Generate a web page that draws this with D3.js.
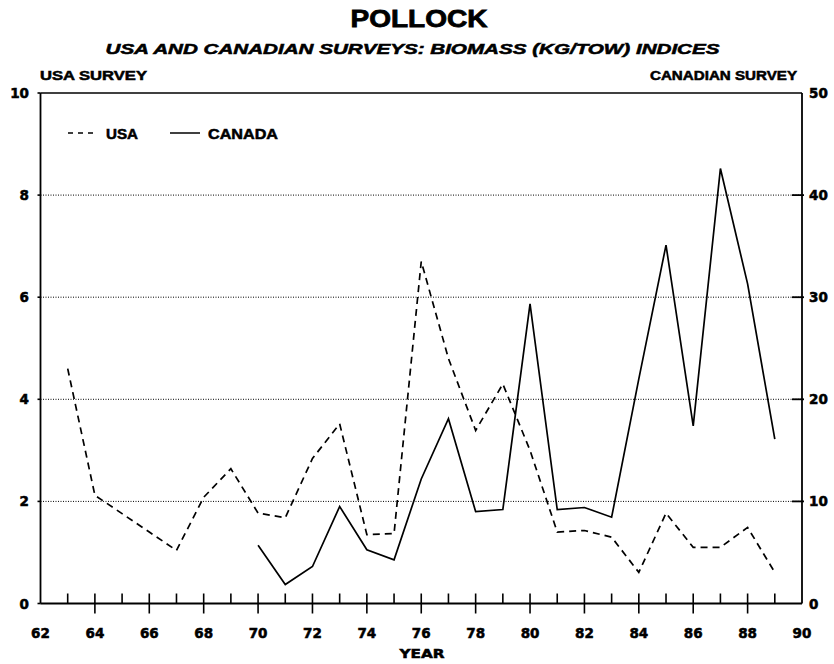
<!DOCTYPE html>
<html><head><meta charset="utf-8">
<script src="https://cdn.jsdelivr.net/npm/d3@7"></script>
<style>
html,body{margin:0;padding:0;background:#fff;}
svg{display:block;}
text{fill:#000;stroke:#000;stroke-width:0.55px;}
</style></head>
<body>
<svg id="chart" width="834" height="664"></svg>
<script>
// ---- data ----
const usaYears = [63,64,65,66,67,68,69,70,71,72,73,74,75,76,77,78,79,80,81,82,83,84,85,86,87,88,89];
const usaValues = [4.6,2.12,1.76,1.40,1.04,2.08,2.64,1.77,1.68,2.84,3.52,1.35,1.37,6.7,4.8,3.39,4.3,3.0,1.40,1.43,1.30,0.61,1.77,1.10,1.10,1.49,0.61];
const canadaYears = [70,71,72,73,74,75,76,77,78,79,80,81,82,83,84,85,86,87,88,89];
const canadaValues = [5.7,1.86,3.62,9.5,5.26,4.28,12.2,18.1,9.0,9.2,29.35,9.2,9.4,8.45,22,35.1,17.4,42.6,31.3,16.1];
const xTickLabels = ["62","64","66","68","70","72","74","76","78","80","82","84","86","88","90"];
const leftTickLabels = ["0","2","4","6","8","10"];
const rightTickLabels = ["0","10","20","30","40","50"];
const titleText = "POLLOCK";
const subtitleText = "USA AND CANADIAN SURVEYS: BIOMASS (KG/TOW) INDICES";
const leftAxisTitle = "USA SURVEY";
const rightAxisTitle = "CANADIAN SURVEY";
const xAxisTitle = "YEAR";
const legendLabels = ["USA","CANADA"];

// ---- layout ----
const L = 40.5, R = 802, T = 93, B = 603.5;
const svg = d3.select("#chart");
const x = d3.scaleLinear().domain([62,90]).range([L,R]);
const yL = d3.scaleLinear().domain([0,10]).range([B,T]);
const yR = d3.scaleLinear().domain([0,50]).range([B,T]);
const lblFont = "'DejaVu Sans', sans-serif";
const hFont = "'Liberation Sans', Arial, sans-serif";

// titles
svg.append("text").attr("x",419).attr("y",27).attr("text-anchor","middle")
  .attr("font-family",hFont).attr("font-weight","bold").attr("font-size",24).style("stroke-width","0.8px")
  .attr("textLength",137).attr("lengthAdjust","spacingAndGlyphs").text(titleText);
svg.append("text").attr("x",412.5).attr("y",54).attr("text-anchor","middle")
  .attr("font-family",hFont).attr("font-weight","bold").attr("font-style","italic").attr("font-size",15)
  .attr("textLength",614).attr("lengthAdjust","spacingAndGlyphs").text(subtitleText);
svg.append("text").attr("x",40).attr("y",80)
  .attr("font-family",hFont).attr("font-weight","bold").attr("font-size",13.5)
  .attr("textLength",107).attr("lengthAdjust","spacingAndGlyphs").text(leftAxisTitle);
svg.append("text").attr("x",797).attr("y",80).attr("text-anchor","end")
  .attr("font-family",hFont).attr("font-weight","bold").attr("font-size",13.5)
  .attr("textLength",147).attr("lengthAdjust","spacingAndGlyphs").text(rightAxisTitle);

// gridlines (dotted)
const gridVals = [2,4,6,8];
svg.append("g").selectAll("line").data(gridVals).join("line")
  .attr("x1",L).attr("x2",R).attr("y1",d=>yL(d)).attr("y2",d=>yL(d))
  .attr("stroke","#000").attr("stroke-width",1).attr("stroke-dasharray","1,1.5");

// frame: left, top, right
const frame = svg.append("g").attr("stroke","#000").attr("fill","none");
frame.append("line").attr("x1",L).attr("x2",L).attr("y1",T).attr("y2",B).attr("stroke-width",1.8);
frame.append("line").attr("x1",L).attr("x2",R).attr("y1",T).attr("y2",T).attr("stroke-width",1.5);
frame.append("line").attr("x1",R).attr("x2",R).attr("y1",T).attr("y2",B).attr("stroke-width",1.8);

// x axis with ticks
const xAxisG = svg.append("g").attr("transform",`translate(0,${B})`);
xAxisG.append("line").attr("x1",L).attr("x2",R).attr("stroke","#000").attr("stroke-width",2);
const allYears = d3.range(62,91);
xAxisG.selectAll("line.tk").data(allYears.slice(1,-1)).join("line").attr("class","tk")
  .attr("x1",d=>x(d)).attr("x2",d=>x(d))
  .attr("y1",-10).attr("y2",d=> d%2===0 ? 10 : 0)
  .attr("stroke","#000").attr("stroke-width",1.6);
xAxisG.selectAll("text").data(xTickLabels).join("text")
  .attr("x",d=>x(+d)).attr("y",34).attr("text-anchor","middle")
  .attr("font-family",lblFont).attr("font-weight","bold").attr("font-size",13.5).text(d=>d);
svg.append("text").attr("x",422).attr("y",658).attr("text-anchor","middle")
  .attr("font-family",lblFont).attr("font-weight","bold").attr("font-size",13)
  .attr("textLength",45).attr("lengthAdjust","spacingAndGlyphs").text(xAxisTitle);

// left axis labels
svg.append("g").selectAll("text").data(leftTickLabels).join("text")
  .attr("x",29).attr("y",d=>yL(+d)+5).attr("text-anchor","end")
  .attr("font-family",lblFont).attr("font-weight","bold").attr("font-size",13.5).text(d=>d);
svg.append("g").selectAll("line").data(leftTickLabels).join("line")
  .attr("x1",L-3).attr("x2",L).attr("y1",d=>yL(+d)).attr("y2",d=>yL(+d))
  .attr("stroke","#000").attr("stroke-width",1.6);
// right axis labels + ticks
svg.append("g").selectAll("text").data(rightTickLabels).join("text")
  .attr("x",809).attr("y",d=>yR(+d)+5).attr("text-anchor","start")
  .attr("font-family",lblFont).attr("font-weight","bold").attr("font-size",13.5).text(d=>d);
svg.append("g").selectAll("line").data(rightTickLabels.slice(1,-1)).join("line")
  .attr("x1",R-10).attr("x2",R+2).attr("y1",d=>yR(+d)).attr("y2",d=>yR(+d))
  .attr("stroke","#000").attr("stroke-width",1.8);

// series lines
const usaLine = d3.line().x((d,i)=>x(usaYears[i])).y(d=>yL(d));
const canLine = d3.line().x((d,i)=>x(canadaYears[i])).y(d=>yR(d));
svg.append("path").attr("d",usaLine(usaValues)).attr("fill","none")
  .attr("stroke","#000").attr("stroke-width",1.7).attr("stroke-dasharray","7,5");
svg.append("path").attr("d",canLine(canadaValues)).attr("fill","none")
  .attr("stroke","#000").attr("stroke-width",1.7).attr("stroke-linejoin","miter");

// legend
const lg = svg.append("g");
lg.append("line").attr("x1",68).attr("x2",95).attr("y1",133).attr("y2",133)
  .attr("stroke","#000").attr("stroke-width",1.5).attr("stroke-dasharray","5,5");
lg.append("text").attr("x",106).attr("y",139).attr("font-family",hFont).attr("font-weight","bold")
  .attr("font-size",15).attr("textLength",32).attr("lengthAdjust","spacingAndGlyphs").text(legendLabels[0]);
lg.append("line").attr("x1",170).attr("x2",200).attr("y1",133).attr("y2",133)
  .attr("stroke","#000").attr("stroke-width",1.5);
lg.append("text").attr("x",208).attr("y",139).attr("font-family",hFont).attr("font-weight","bold")
  .attr("font-size",15).attr("textLength",70).attr("lengthAdjust","spacingAndGlyphs").text(legendLabels[1]);
</script>
</body></html>
